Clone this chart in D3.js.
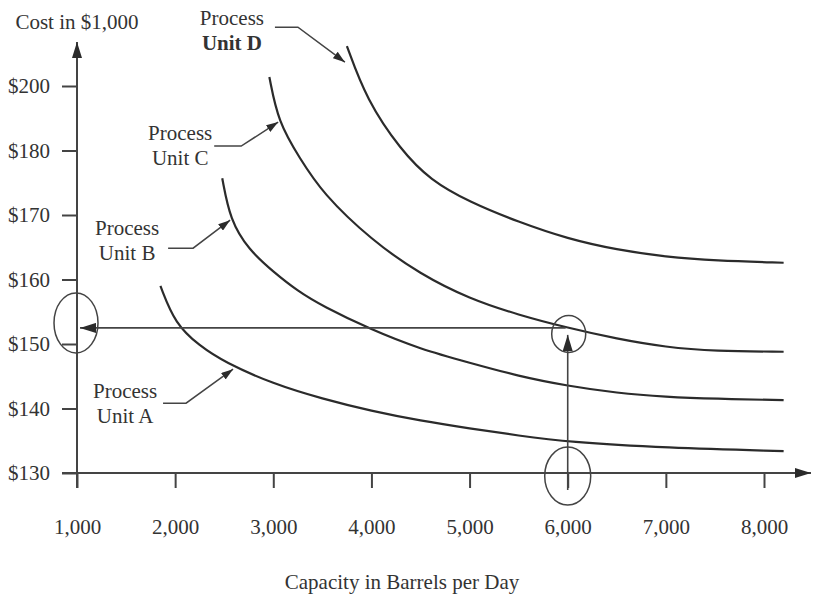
<!DOCTYPE html>
<html><head><meta charset="utf-8">
<script src="https://cdn.jsdelivr.net/npm/d3@7"></script>
<style>
body{margin:0;background:#fff}
svg{display:block}
text{font-family:"Liberation Serif","Times New Roman",serif;fill:#333}
</style>
</head><body><svg id="c" width="813" height="597"></svg>
<script>
// ---------- data ----------
const capacityTicks = [1000, 2000, 3000, 4000, 5000, 6000, 7000, 8000];
const costTicks = [130, 140, 150, 160, 170, 180, 200];

const unitA = [[1850,159.0],[2000,153.1],[2250,149.7],[2500,147.2],[3000,143.8],[3500,141.5],[4000,139.6],[4500,138.1],[5000,136.9],[5500,135.8],[6000,134.8],[7000,133.9],[8200,133.4]];
const unitB = [[2480,175.7],[2560,169.2],[2750,164.6],[3000,161.2],[3250,158.2],[3500,155.9],[4000,152.2],[4500,149.2],[5000,147.1],[5500,145.0],[6000,143.5],[6500,142.4],[7000,141.8],[7500,141.5],[8200,141.3]];
const unitC = [[2960,202.8],[3050,188.8],[3270,178.8],[3500,173.4],[4000,166.1],[4500,160.8],[5000,157.0],[5500,154.5],[6000,152.5],[6500,150.8],[7000,149.5],[7500,148.9],[8200,148.8]];
const unitD = [[3750,212.4],[3950,195.7],[4300,180.1],[4600,175.4],[5000,172.0],[5500,168.9],[6000,166.3],[6500,164.6],[7000,163.5],[7500,162.9],[8200,162.6]];

const unitNames = ["Unit A", "Unit B", "Unit C", "Unit D"];
// arrow tip of each label's leader, on its curve [capacity, cost]
const labelTips = [[2590,146.1],[2560,169.2],[3050,188.8],[3730,207.4]];

const readCapacity = 6000;
const readCost = 152.5;

const yAxisTitle = "Cost in $1,000";
const xAxisTitle = "Capacity in Barrels per Day";

// ---------- drawing ----------
const svg = d3.select("#c");
const ink = "#2b2b2b";
const FS = 21;

const x = d3.scaleLinear().domain([1000, 8000]).range([77, 764]);
const yTop = 86, yBot = 473;
const y = d3.scaleLinear()
  .domain(costTicks)
  .range(costTicks.map((d, i) => yBot - i * (yBot - yTop) / (costTicks.length - 1)));

const defs = svg.append("defs");
defs.append("marker").attr("id", "ah").attr("viewBox", "0 0 12 8")
  .attr("refX", 12).attr("refY", 4).attr("markerWidth", 12).attr("markerHeight", 8)
  .attr("markerUnits", "userSpaceOnUse").attr("orient", "auto")
  .append("path").attr("d", "M0,0L12,4L0,8Z").attr("fill", ink);
defs.append("marker").attr("id", "ahBig").attr("viewBox", "0 0 16 10")
  .attr("refX", 16).attr("refY", 5).attr("markerWidth", 16).attr("markerHeight", 10)
  .attr("markerUnits", "userSpaceOnUse").attr("orient", "auto")
  .append("path").attr("d", "M0,0L16,5L0,10Z").attr("fill", ink);

// axes
const x0 = x(1000), y0 = y(130);
svg.append("line").attr("x1", x0).attr("x2", x0).attr("y1", y0 + 15).attr("y2", 42)
  .attr("stroke", "#444").attr("stroke-width", 2).attr("marker-end", "url(#ahBig)");
svg.append("line").attr("x1", x0 - 15).attr("x2", 811).attr("y1", y0).attr("y2", y0)
  .attr("stroke", "#444").attr("stroke-width", 2).attr("marker-end", "url(#ahBig)");

const yAxis = svg.append("g").attr("transform", `translate(${x0},0)`)
  .call(d3.axisLeft(y).tickValues(costTicks).tickSize(15).tickPadding(12).tickFormat(d => "$" + d));
const xAxis = svg.append("g").attr("transform", `translate(0,${y0})`)
  .call(d3.axisBottom(x).tickValues(capacityTicks).tickSize(15).tickPadding(31).tickFormat(d3.format(",")));
[yAxis, xAxis].forEach(g => {
  g.select(".domain").remove();
  g.selectAll(".tick line").attr("stroke", "#444").attr("stroke-width", 2);
  g.selectAll(".tick text").attr("font-size", FS).attr("font-family", '"Liberation Serif",serif').attr("fill", "#333");
});

svg.append("text").attr("x", 77).attr("y", 29).attr("text-anchor", "middle")
  .attr("font-size", FS).attr("fill", "#222").text(yAxisTitle);
svg.append("text").attr("x", 402).attr("y", 589).attr("text-anchor", "middle")
  .attr("font-size", FS).attr("fill", "#222").text(xAxisTitle);

// curves
const line = d3.line().x(d => x(d[0])).y(d => y(d[1])).curve(d3.curveBasis);
[unitA, unitB, unitC, unitD].forEach(s => {
  svg.append("path").attr("d", line(s)).attr("fill", "none")
    .attr("stroke", ink).attr("stroke-width", 2.2);
});

// reading lines
const rx = x(readCapacity), ry = y(readCost);
svg.append("line").attr("x1", rx - 2).attr("x2", x0 + 3).attr("y1", ry).attr("y2", ry)
  .attr("stroke", "#444").attr("stroke-width", 1.6).attr("marker-end", "url(#ahBig)");
svg.append("line").attr("x1", rx).attr("x2", rx).attr("y1", y0 + 17).attr("y2", ry + 7)
  .attr("stroke", "#444").attr("stroke-width", 1.6).attr("marker-end", "url(#ahBig)");

// ellipses
const ell = [[x0 - 1, ry - 5, 22, 30], [rx + 1, ry + 6, 17, 18.5], [rx, y0 + 3, 23, 29]];
ell.forEach(e => svg.append("ellipse").attr("cx", e[0]).attr("cy", e[1]).attr("rx", e[2]).attr("ry", e[3])
  .attr("fill", "none").attr("stroke", "#444").attr("stroke-width", 1.5));

// labels with leaders (offsets relative to arrow tip)
const labelLayout = [
  {dx: -108, dy: 22, ex: -70, ey: 34, hx: -47},   // A
  {dx: -103, dy: 8, ex: -62, ey: 28, hx: -37},    // B
  {dx: -98, dy: 11, ex: -64, ey: 24, hx: -37},    // C
  {dx: -113, dy: -44, ex: -70, ey: -35, hx: -47}  // D
];
unitNames.forEach((name, i) => {
  const tx = x(labelTips[i][0]), ty = y(labelTips[i][1]);
  const L = labelLayout[i];
  const cx = tx + L.dx, cy = ty + L.dy;
  svg.append("text").attr("x", cx).attr("y", cy + 7).attr("text-anchor", "middle")
    .attr("font-size", FS).attr("fill", i === 3 ? "#555" : "#444").text("Process");
  svg.append("text").attr("x", cx).attr("y", cy + 32).attr("text-anchor", "middle")
    .attr("font-size", FS).attr("font-weight", i === 3 ? "bold" : "normal")
    .attr("fill", i === 3 ? "#111" : "#444").text(name);
  svg.append("path")
    .attr("d", `M${tx + L.ex},${ty + L.ey}L${tx + L.hx},${ty + L.ey}L${tx},${ty}`)
    .attr("fill", "none").attr("stroke", "#444").attr("stroke-width", 1.5)
    .attr("marker-end", "url(#ah)");
});
</script>
</body></html>
